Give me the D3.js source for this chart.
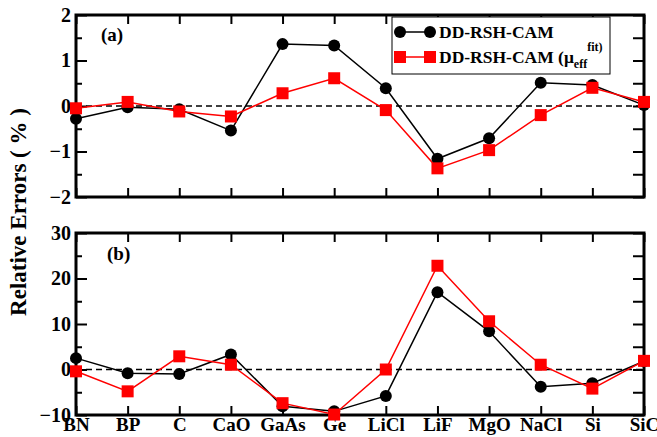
<!DOCTYPE html>
<html>
<head>
<meta charset="utf-8">
<script src="https://cdn.jsdelivr.net/npm/d3@7"></script>
<style>
  html, body { margin: 0; padding: 0; background: #fff; }
  #chart text { font-family: "Times New Roman", "Liberation Serif", Times, serif !important; font-weight: bold; }
</style>
</head>
<body>
<svg id="chart" width="657" height="437"></svg>
<script>
// Materials along the x axis
const materials = ["BN", "BP", "C", "CaO", "GaAs", "Ge", "LiCl", "LiF", "MgO", "NaCl", "Si", "SiC"];

// Panel (a): relative errors (%)
const camA    = [-0.28, -0.03, -0.07, -0.54, 1.36, 1.33, 0.39, -1.16, -0.71, 0.51, 0.46, 0.02];
const camFitA = [-0.05, 0.09, -0.12, -0.23, 0.28, 0.61, -0.09, -1.37, -0.97, -0.20, 0.40, 0.09];

// Panel (b): relative errors (%)
const camB    = [2.5, -0.8, -1.0, 3.3, -8.1, -9.2, -5.8, 17.0, 8.4, -3.8, -3.0, 1.8];
const camFitB = [-0.4, -4.8, 2.9, 1.05, -7.4, -9.9, 0.0, 22.8, 10.6, 1.05, -4.2, 1.9];

// Tick values
const ticksA = [-2, -1, 0, 1, 2];
const minorA = [-1.5, -0.5, 0.5, 1.5];
const ticksB = [-10, 0, 10, 20, 30];
const minorB = [-5, 5, 15, 25];

const svg = d3.select("#chart");
const left = 76, right = 644;

const x = d3.scalePoint().domain(materials).range([left, right]);

function styleText(sel, size) {
  sel.attr("font-size", size).attr("fill", "#000");
}

function panel(top, bottom, domain, ticks, minor, s1, s2, tag, showX) {
  const y = d3.scaleLinear().domain(domain).range([bottom, top]);
  const g = svg.append("g");

  // zero reference line
  g.append("line")
    .attr("x1", left).attr("x2", right)
    .attr("y1", y(0)).attr("y2", y(0))
    .attr("stroke", "#000").attr("stroke-width", 1.5)
    .attr("stroke-dasharray", "6,4");

  // left axis: major ticks with labels, minor ticks inward
  const yAxis = d3.axisLeft(y).tickValues(ticks).tickSize(-11).tickPadding(5).tickFormat(d3.format("d"));
  const ga = g.append("g").attr("transform", `translate(${left},0)`).call(yAxis);
  ga.select(".domain").remove();
  ga.selectAll(".tick line").attr("stroke-width", 2);
  styleText(ga.selectAll("text"), 20);
  const gm = g.append("g").attr("transform", `translate(${left},0)`)
    .call(d3.axisLeft(y).tickValues(minor).tickSize(-6).tickFormat(""));
  gm.select(".domain").remove();
  gm.selectAll(".tick line").attr("stroke-width", 2);

  // right axis ticks, inward
  const gr = g.append("g").attr("transform", `translate(${right},0)`)
    .call(d3.axisRight(y).tickValues(ticks.concat(minor)).tickSize(-11).tickFormat(""));
  gr.select(".domain").remove();
  gr.selectAll(".tick line").attr("stroke-width", 2);

  // top and bottom category ticks, inward
  const gt = g.append("g").attr("transform", `translate(0,${top})`)
    .call(d3.axisTop(x).tickSize(-9).tickFormat(""));
  gt.select(".domain").remove();
  gt.selectAll(".tick line").attr("stroke-width", 2);
  const gb = g.append("g").attr("transform", `translate(0,${bottom})`)
    .call(d3.axisBottom(x).tickSize(-9).tickPadding(2));
  gb.select(".domain").remove();
  gb.selectAll(".tick line").attr("stroke-width", 2);
  if (showX) {
    styleText(gb.selectAll("text"), 19);
  } else {
    gb.selectAll("text").remove();
  }

  // frame
  g.append("rect")
    .attr("x", left).attr("y", top)
    .attr("width", right - left).attr("height", bottom - top)
    .attr("fill", "none").attr("stroke", "#000").attr("stroke-width", 3);

  const line = d3.line().x((d, i) => x(materials[i])).y(d => y(d));

  // black series: circles
  g.append("path").datum(s1).attr("d", line)
    .attr("fill", "none").attr("stroke", "#000").attr("stroke-width", 1.5);
  // red series: squares
  g.append("path").datum(s2).attr("d", line)
    .attr("fill", "none").attr("stroke", "#ff0000").attr("stroke-width", 1.5);

  g.selectAll(".c").data(s1).enter().append("circle")
    .attr("cx", (d, i) => x(materials[i])).attr("cy", d => y(d))
    .attr("r", 6).attr("fill", "#000");
  g.selectAll(".s").data(s2).enter().append("rect")
    .attr("x", (d, i) => x(materials[i]) - 6).attr("y", d => y(d) - 6)
    .attr("width", 12).attr("height", 12).attr("fill", "#ff0000");

  styleText(g.append("text").attr("x", tag.x).attr("y", tag.y).text(tag.label), 19);
}

panel(15, 197, [-2, 2], ticksA, minorA, camA, camFitA, {x: 101, y: 41, label: "(a)"}, false);
panel(233, 415, [-10, 30], ticksB, minorB, camB, camFitB, {x: 107, y: 260, label: "(b)"}, true);

// legend
const lg = svg.append("g");
lg.append("rect").attr("x", 392).attr("y", 17).attr("width", 218).attr("height", 57)
  .attr("fill", "#fff").attr("stroke", "#000").attr("stroke-width", 1);
lg.append("line").attr("x1", 400).attr("x2", 430).attr("y1", 32).attr("y2", 32)
  .attr("stroke", "#000").attr("stroke-width", 1.5);
lg.append("circle").attr("cx", 400).attr("cy", 32).attr("r", 6).attr("fill", "#000");
lg.append("circle").attr("cx", 430).attr("cy", 32).attr("r", 6).attr("fill", "#000");
styleText(lg.append("text").attr("x", 439).attr("y", 38).text("DD-RSH-CAM"), 17.5);
lg.append("line").attr("x1", 400).attr("x2", 430).attr("y1", 57).attr("y2", 57)
  .attr("stroke", "#ff0000").attr("stroke-width", 1.5);
lg.append("rect").attr("x", 394).attr("y", 51).attr("width", 12).attr("height", 12).attr("fill", "#ff0000");
lg.append("rect").attr("x", 424).attr("y", 51).attr("width", 12).attr("height", 12).attr("fill", "#ff0000");
const t2 = lg.append("text").attr("x", 439).attr("y", 63);
styleText(t2, 17.5);
t2.append("tspan").text("DD-RSH-CAM (μ");
t2.append("tspan").attr("font-size", 12).attr("dy", 5).text("eff");
t2.append("tspan").attr("font-size", 12).attr("dy", -17).text("fit)");

// y axis title
styleText(svg.append("text")
  .attr("transform", "translate(26,212) rotate(-90)")
  .attr("text-anchor", "middle")
  .text("Relative Errors ( % )"), 23);
</script>
</body>
</html>
